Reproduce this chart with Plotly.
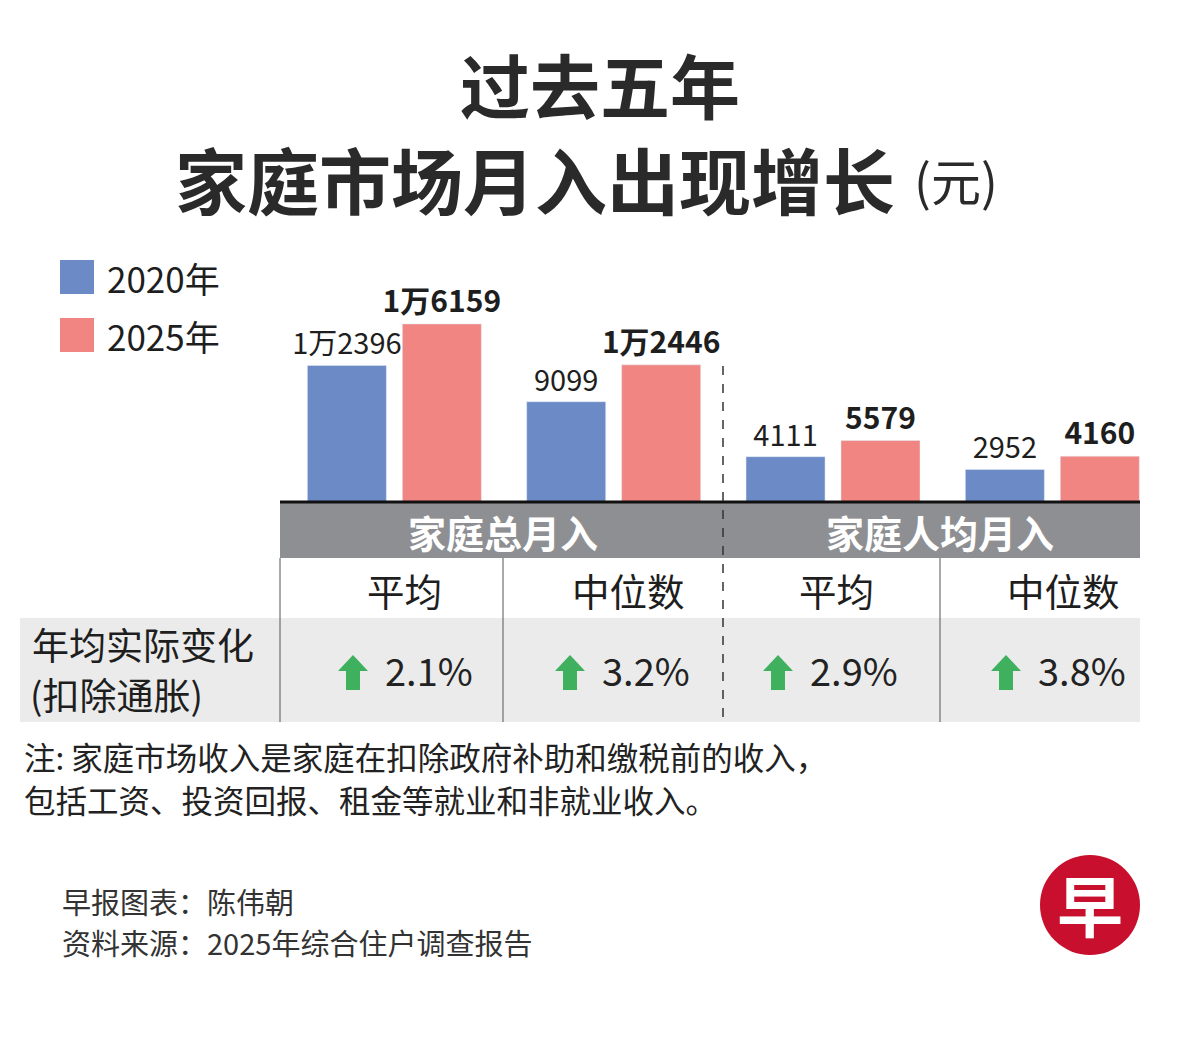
import plotly.graph_objects as go

# data
groups = ["总月入平均", "总月入中位数", "人均月入平均", "人均月入中位数"]
income_2020 = [12396, 9099, 4111, 2952]
income_2025 = [16159, 12446, 5579, 4160]
sections = ["家庭总月入", "家庭人均月入"]
measures = ["平均", "中位数", "平均", "中位数"]
real_change = [2.1, 3.2, 2.9, 3.8]
years = ["2020年", "2025年"]

# page body has an 8px margin, so the figure is a bit smaller and shifted
OFF = 8
W, H = 1200 - OFF, 1040 - OFF
FONT = "Noto Sans CJK SC"
BLUE = "#6b8ac6"
RED = "#f08581"
INK = "#1e1e1e"
GREEN = "#3fb05e"


def px(x):
    return (x - OFF) / W


def py(y):
    return 1 - (y - OFF) / H


def wan(v):
    # 1万2396 style
    if v >= 10000:
        return f"{v // 10000}万{v % 10000:04d}"
    return str(v)


fig = go.Figure()
fig.add_trace(go.Bar(
    x=groups, y=income_2020, name=years[0], marker_color=BLUE,
    text=[wan(v) for v in income_2020], textposition="outside",
    textfont=dict(family=FONT, size=29, color=INK),
    constraintext="none", cliponaxis=False, showlegend=False,
))
fig.add_trace(go.Bar(
    x=groups, y=income_2025, name=years[1], marker_color=RED,
    text=[f"<b>{wan(v)}</b>" for v in income_2025], textposition="outside",
    textfont=dict(family=FONT, size=30, color=INK),
    constraintext="none", cliponaxis=False, showlegend=False,
))

shapes = []
annotations = []


def rect(x0, y0, x1, y1, color):
    shapes.append(dict(type="rect", xref="paper", yref="paper",
                       x0=px(x0), x1=px(x1), y0=py(y1), y1=py(y0),
                       fillcolor=color, line_width=0, layer="below"))


def vline(x, y0, y1, color="#555", width=1, dash="solid"):
    shapes.append(dict(type="line", xref="paper", yref="paper",
                       x0=px(x), x1=px(x), y0=py(y0), y1=py(y1),
                       line=dict(color=color, width=width, dash=dash)))


def text(x, y, s, size, color=INK, anchor="center", bold=False):
    if bold:
        s = f"<b>{s}</b>"
    annotations.append(dict(xref="paper", yref="paper", x=px(x), y=py(y),
                            text=s, showarrow=False, xanchor=anchor, yanchor="middle",
                            font=dict(family=FONT, size=size, color=color)))


# title
text(600, 83, "过去五年", 70, "#2a2a2a", bold=True)
text(535, 177, "家庭市场月入出现增长", 72, "#2a2a2a", bold=True)
text(912, 179, "(元)", 50, "#2a2a2a", anchor="left")

# legend
rect(60, 260, 94, 294, BLUE)
rect(60, 318, 94, 352, RED)
text(105, 277, years[0], 35, anchor="left")
text(105, 335, years[1], 35, anchor="left")

# table backgrounds
rect(280, 503, 1140, 558, "#8e8f93")
rect(20, 618, 1140, 722, "#ebebeb")
shapes.append(dict(type="line", xref="paper", yref="paper",
                   x0=px(280), x1=px(1140), y0=py(502), y1=py(502),
                   line=dict(color="#111", width=3)))
for x in [280, 503, 940]:
    vline(x, 558, 722)
vline(723, 366, 722, color="#333", width=1.5, dash="dash")

# section headers
for s, cx in zip(sections, [503, 940]):
    text(cx, 531, s, 38, "white", bold=True)

# measure labels
for m, cx in zip(measures, [404, 628, 836, 1063]):
    text(cx, 589, m, 37.5)

# change row
text(30, 644, "年均实际变化", 37, anchor="left")
text(28, 694, "(扣除通胀)", 37, anchor="left")
for v, ax in zip(real_change, [353, 570, 778, 1006]):
    top, mid, bot = 655, 671, 690
    path = (f"M {px(ax)} {py(top)} L {px(ax + 15)} {py(mid)} L {px(ax + 7)} {py(mid)} "
            f"L {px(ax + 7)} {py(bot)} L {px(ax - 7)} {py(bot)} L {px(ax - 7)} {py(mid)} "
            f"L {px(ax - 15)} {py(mid)} Z")
    shapes.append(dict(type="path", xref="paper", yref="paper", path=path,
                       fillcolor=GREEN, line_width=0))
    text(ax + 30, 669, f"{v}%", 38, "#222", anchor="left")

# notes
text(22, 756, "注: 家庭市场收入是家庭在扣除政府补助和缴税前的收入，", 31.5, "#222", anchor="left")
text(22, 799, "包括工资、投资回报、租金等就业和非就业收入。", 31.5, "#222", anchor="left")
text(60, 901, "早报图表：陈伟朝", 29, "#333", anchor="left")
text(60, 942, "资料来源：2025年综合住户调查报告", 29, "#333", anchor="left")

# logo
shapes.append(dict(type="circle", xref="paper", yref="paper",
                   x0=px(1040), x1=px(1140), y0=py(955), y1=py(855),
                   fillcolor="#c8102e", line_width=0))
text(1090, 903, "早", 66, "white", bold=True)

fig.update_layout(
    width=W, height=H,
    margin=dict(l=0, r=0, t=0, b=0),
    paper_bgcolor="white", plot_bgcolor="white",
    barmode="group", bargap=0.134, bargroupgap=0.168,
    xaxis=dict(domain=[px(284.7), px(1162)], visible=False),
    yaxis=dict(domain=[py(502), py(240)], range=[0, 23775], visible=False),
    shapes=shapes, annotations=annotations,
)

fig.write_html("out.html")
